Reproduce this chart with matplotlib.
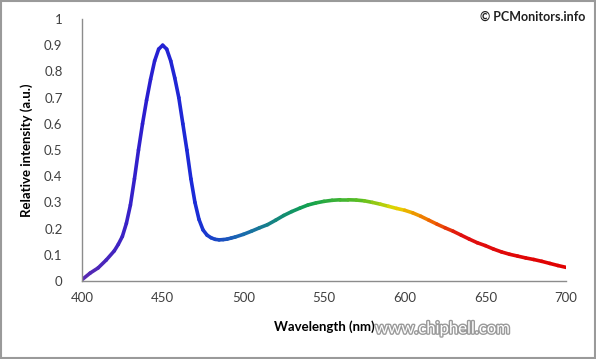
import numpy as np
import matplotlib.pyplot as plt
from matplotlib.collections import LineCollection
from matplotlib.colors import to_rgb
from matplotlib.patches import Rectangle
import matplotlib.patheffects as pe

plt.rcParams['font.family'] = ['Lato', 'DejaVu Sans']

# spectrum (finer steps around the blue peak)
wavelength = [400, 405, 410, 415, 420, 422.5, 425, 427.5, 430, 432.5, 435, 437.5,
              440, 442.5, 445, 447.5, 450, 452.5, 455, 457.5, 460, 462.5, 465, 467.5,
              470, 472.5, 475, 477.5, 480, 482.5, 485, 487.5, 490, 492.5, 495,
              500, 505, 510, 515, 520, 525, 530, 535, 540, 545, 550, 555, 560, 565,
              570, 575, 580, 585, 590, 595, 600, 605, 610, 615, 620, 625, 630, 635,
              640, 645, 650, 655, 660, 665, 670, 675, 680, 685, 690, 695, 700]
intensity = [0.005, 0.03, 0.05, 0.08, 0.115, 0.14, 0.17, 0.22, 0.29, 0.39, 0.50, 0.60,
             0.69, 0.77, 0.84, 0.885, 0.90, 0.885, 0.84, 0.775, 0.70, 0.60, 0.50, 0.39,
             0.30, 0.235, 0.195, 0.175, 0.165, 0.159, 0.157, 0.158, 0.160, 0.164, 0.168,
             0.178, 0.190, 0.203, 0.215, 0.232, 0.250, 0.265, 0.278, 0.290, 0.298,
             0.304, 0.308, 0.310, 0.310, 0.309, 0.306, 0.300, 0.293, 0.285, 0.277,
             0.270, 0.260, 0.247, 0.232, 0.217, 0.203, 0.190, 0.175, 0.160, 0.146,
             0.135, 0.122, 0.111, 0.102, 0.095, 0.088, 0.082, 0.075, 0.067, 0.059,
             0.052]

xticks = [400, 450, 500, 550, 600, 650, 700]
yticks = [0, 0.1, 0.2, 0.3, 0.4, 0.5, 0.6, 0.7, 0.8, 0.9, 1]
ytick_labels = ['0', '0.1', '0.2', '0.3', '0.4', '0.5', '0.6', '0.7', '0.8', '0.9', '1']

# colour stops along the wavelength axis
stop_wl = [400, 440, 470, 500, 540, 575, 595, 615, 635, 700]
stop_col = ['#5a2ab0', '#2a1ed0', '#1a2ad8', '#1a6ab0', '#10a050', '#60c020',
            '#e8d800', '#f07000', '#e01010', '#e00000']

fig = plt.figure(figsize=(5.96, 3.59), dpi=100)
fig.patches.append(Rectangle((0.001, 0.003), 0.997, 0.994, transform=fig.transFigure,
                             fill=False, edgecolor='#9a9a9a', linewidth=1.5))
ax = fig.add_axes([0.1376, 0.2173, 0.8121, 0.7297])

x = np.array(wavelength, dtype=float)
y = np.array(intensity)
pts = np.column_stack((x, y)).reshape(-1, 1, 2)
segs = np.concatenate([pts[:-1], pts[1:]], axis=1)
mid = (x[:-1] + x[1:]) / 2
rgb = np.array([to_rgb(c) for c in stop_col])
cols = np.column_stack([np.interp(mid, stop_wl, rgb[:, k]) for k in range(3)])
lc = LineCollection(segs, colors=cols, linewidths=2.6, capstyle='round', joinstyle='round')
ax.add_collection(lc)

ax.set_xlim(400, 700)
ax.set_ylim(0, 1)
ax.set_xticks(xticks)
ax.set_yticks(yticks)
ax.set_yticklabels(ytick_labels)
ax.tick_params(length=0, labelsize=9.5, colors='#404040', pad=8)
ax.tick_params(axis='y', pad=14)
for s in ['top', 'right']:
    ax.spines[s].set_visible(False)
for s in ['left', 'bottom']:
    ax.spines[s].set_color('#8c8c8c')
    ax.spines[s].set_linewidth(1.0)

ax.set_xlabel('Wavelength (nm)', fontsize=9.5, fontweight='bold', labelpad=12)
ax.set_ylabel('Relative intensity (a.u.)', fontsize=9.5, fontweight='bold', labelpad=8)

fig.text(0.982, 0.952, '\u00a9 PCMonitors.info', ha='right', va='center',
         fontsize=9, fontweight='bold', color='#202020')

fig.text(0.855, 0.085, 'www.chiphell.com', ha='right', va='center', fontsize=12,
         color='white', path_effects=[pe.withStroke(linewidth=2, foreground='#9a9a9a')])

fig.savefig('out.png', dpi=100)
